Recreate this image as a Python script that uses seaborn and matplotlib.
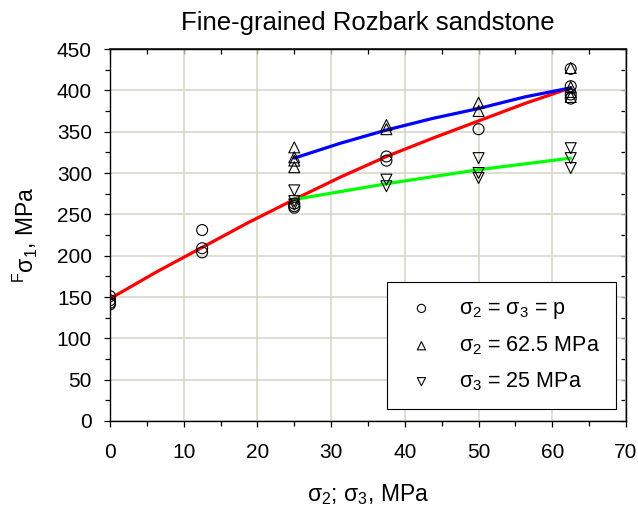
import numpy as np
import pandas as pd
import seaborn as sns
import matplotlib.pyplot as plt
from matplotlib.ticker import MultipleLocator

p_circle_x = [0, 0, 0, 0, 12.5, 12.5, 12.5, 25, 25, 25, 37.5, 37.5, 50, 62.5, 62.5, 62.5, 62.5]
p_circle_y = [151, 146, 143, 141, 231, 209, 204, 263, 260, 258, 320, 315, 353, 426, 405, 395, 390]

s2_x = [25, 25, 25, 25, 37.5, 37.5, 50, 50, 62.5, 62.5, 62.5, 62.5]
s2_y = [331, 319, 315, 307, 358, 353, 385, 375, 427, 404, 398, 392]

s3_x = [25, 25, 25, 37.5, 37.5, 50, 50, 50, 62.5, 62.5, 62.5]
s3_y = [279, 266, 262, 292, 284, 318, 300, 294, 330, 318, 306]

# --- fitted curves ---
fit_p_x = [0, 6.25, 12.5, 18.75, 25, 31.25, 37.5, 43.75, 50, 56.25, 62.5]
fit_p_y = [148, 180, 210, 240, 268, 295, 320, 342, 363, 384, 403]
fit_s2_x = [25, 31.25, 37.5, 43.75, 50, 56.25, 62.5]
fit_s2_y = [318, 336, 352, 366, 378, 392, 403]
fit_s3_x = [25, 37.5, 50, 62.5]
fit_s3_y = [268, 287, 304, 318]

labels = ["σ$_2$ = σ$_3$ = p", "σ$_2$ = 62.5 MPa", "σ$_3$ = 25 MPa"]

sns.set_theme(style="ticks")
plt.rcParams["font.family"] = ["Liberation Sans", "DejaVu Sans"]
plt.rcParams["mathtext.fontset"] = "custom"
plt.rcParams["mathtext.rm"] = "Liberation Sans"
plt.rcParams["mathtext.it"] = "Liberation Sans"
plt.rcParams["mathtext.bf"] = "Liberation Sans:bold"
plt.rcParams["text.color"] = "black"
plt.rcParams["axes.labelcolor"] = "black"
plt.rcParams["xtick.color"] = "black"
plt.rcParams["ytick.color"] = "black"

fig = plt.figure(figsize=(6.38, 5.09), dpi=100)
ax = fig.add_axes([0.1724, 0.1729, 0.8088, 0.7308])

# fitted lines
sns.lineplot(x=fit_p_x, y=fit_p_y, ax=ax, color="#ff0000", lw=2.3, sort=False, zorder=2)
sns.lineplot(x=fit_s2_x, y=fit_s2_y, ax=ax, color="#0000ff", lw=2.3, sort=False, zorder=2)
sns.lineplot(x=fit_s3_x, y=fit_s3_y, ax=ax, color="#00ff00", lw=2.3, sort=False, zorder=2)

# measured points
marker_kw = dict(facecolor="none", edgecolor="black", linewidth=0.8, s=62, zorder=3, ax=ax)
sns.scatterplot(x=p_circle_x, y=p_circle_y, marker="o", **marker_kw)
sns.scatterplot(x=s2_x, y=s2_y, marker="^", **marker_kw)
sns.scatterplot(x=s3_x, y=s3_y, marker="v", **marker_kw)

ax.set_xlim(0, 70)
ax.set_ylim(0, 450)
ax.xaxis.set_major_locator(MultipleLocator(10))
ax.xaxis.set_minor_locator(MultipleLocator(5))
ax.yaxis.set_major_locator(MultipleLocator(50))
ax.yaxis.set_minor_locator(MultipleLocator(25))
ax.grid(True, which="major", color="#d5d5c6", lw=1.1)
ax.set_axisbelow(True)
for sp in ax.spines.values():
    sp.set_visible(True)
    sp.set_color("black")
    sp.set_linewidth(1.0)
ax.tick_params(which="both", direction="out", labelsize=15, width=0.9)
ax.tick_params(which="major", length=4)
ax.tick_params(which="minor", length=3.5)
ax.tick_params(axis="x", which="major", pad=12)
ax.tick_params(axis="y", which="major", pad=9)

# inward ticks on top and right
top = ax.secondary_xaxis("top")
top.xaxis.set_major_locator(MultipleLocator(10))
top.xaxis.set_minor_locator(MultipleLocator(5))
top.tick_params(which="both", direction="in", length=3.5, labeltop=False, width=0.9)
right = ax.secondary_yaxis("right")
right.yaxis.set_major_locator(MultipleLocator(50))
right.yaxis.set_minor_locator(MultipleLocator(25))
right.tick_params(which="both", direction="in", length=3.5, labelright=False, width=0.9)

ax.set_title("Fine-grained Rozbark sandstone", fontsize=18.5, pad=14)
ax.set_xlabel("σ$_2$; σ$_3$, MPa", fontsize=16.5, labelpad=14)
ax.set_ylabel("${}^{F}$σ$_1$, MPa", fontsize=16.5, labelpad=12)

handles = ax.collections[-3:]
leg = ax.legend(handles, labels, loc="lower right", bbox_to_anchor=(0.981, 0.032),
                borderaxespad=0, fontsize=15.5, markerscale=0.75, frameon=True,
                fancybox=False, framealpha=1, edgecolor="black",
                labelspacing=0.62, handletextpad=0.9, borderpad=0.75, handlelength=1.7)
leg.get_frame().set_linewidth(0.8)

fig.savefig("out.png", dpi=100)
